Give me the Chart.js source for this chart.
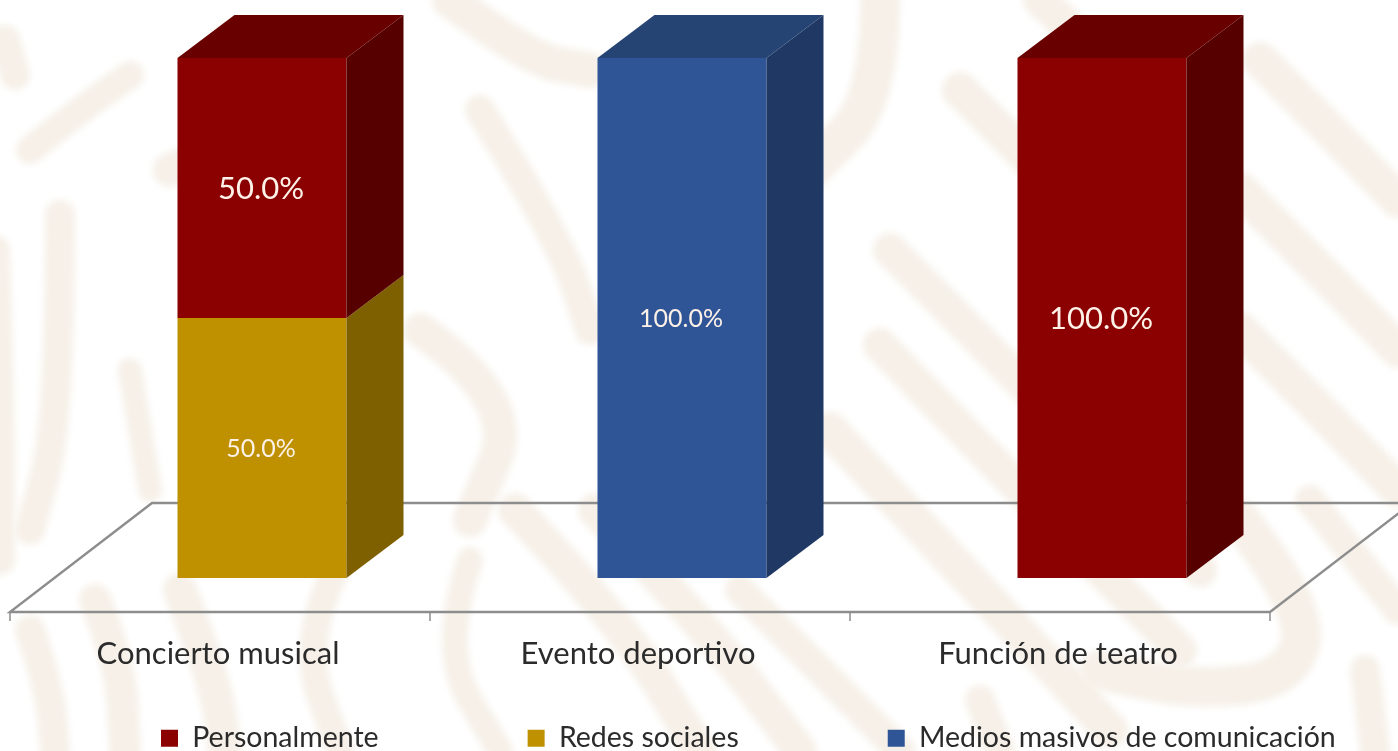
<!DOCTYPE html>
<html><head><meta charset="utf-8">
<style>html,body{margin:0;padding:0;background:#fff}#w{width:1398px;height:751px;position:relative}</style>
<script src="https://cdn.jsdelivr.net/npm/chart.js@4"></script>
</head><body><div id="w"><canvas id="c" width="1398" height="751"></canvas></div>
<script>
const categories = ['Concierto musical', 'Evento deportivo', 'Función de teatro'];
const seriesNames = ['Redes sociales', 'Personalmente', 'Medios masivos de comunicación'];
const redesSociales = [50, 0, 0];
const personalmente = [50, 0, 100];
const mediosMasivos = [0, 100, 0];
const legendOrder = ['Personalmente', 'Redes sociales', 'Medios masivos de comunicación'];

const FONT = 'Lato, sans-serif', INK = '#2b2b2b';
const DX = 57, DY = 43;
const shade = {
  'Redes sociales': {front:'#BF9000', side:'#7F6000', top:'#8f6c00', label:25},
  'Personalmente': {front:'#8B0000', side:'#570000', top:'#680000', label:31},
  'Medios masivos de comunicación': {front:'#2F5597', side:'#203864', top:'#264473', label:25}
};

/* faint watermark behind the chart */
const wm = [
 [28,[[30,150],[80,110],[130,75]]],[30,[[5,40],[15,75]]],[30,[[30,630],[50,690],[55,751]]],[32,[[95,600],[120,660],[125,751]]],
 [30,[[60,215],[60,420],[30,530]]],[24,[[130,370],[150,490]]],[30,[[-5,250],[0,400],[0,560]]],
 [36,[[450,0],[530,60],[590,70]]],[30,[[480,110],[560,240],[590,330]]],[34,[[230,40],[260,130],[170,170]]],
 [34,[[420,330],[520,400],[470,520]]],[28,[[340,560],[300,640],[340,751]]],[34,[[180,590],[215,680],[225,751]]],
 [26,[[470,560],[440,650],[500,751]]],[34,[[515,510],[620,620],[700,751]]],[34,[[595,510],[700,620],[800,751]]],[30,[[740,590],[830,680],[900,751]]],
 [36,[[830,430],[980,590],[1110,730]]],[34,[[880,345],[1030,500],[1180,650]]],[34,[[890,250],[1050,410],[1200,570]]],
 [40,[[1240,520],[1310,610],[1290,680],[1190,690],[1100,670]]],[36,[[960,90],[1040,170],[1120,250]]],
 [36,[[1260,60],[1330,130],[1398,200]]],[36,[[1240,190],[1320,270],[1398,350]]],[36,[[1240,330],[1320,410],[1398,490]]],
 [40,[[880,0],[880,100],[810,170]]],[34,[[1040,0],[1100,55],[1160,110]]],[30,[[1365,670],[1375,751]]],
 [30,[[1310,500],[1350,550],[1398,610]]],[30,[[980,700],[1000,751]]]
];
const backgroundPlugin = {
  id:'bg',
  beforeDraw(chart){
    const c = chart.ctx; c.save();
    c.fillStyle='#fff'; c.fillRect(0,0,chart.width,chart.height);
    c.strokeStyle='#f6f0e8'; c.lineCap='round'; c.lineJoin='round'; c.filter='blur(3px)';
    wm.forEach(([w,p])=>{
      c.lineWidth=w; c.beginPath(); c.moveTo(p[0][0],p[0][1]);
      for(let i=1;i<p.length-1;i++){ c.quadraticCurveTo(p[i][0],p[i][1],(p[i][0]+p[i+1][0])/2,(p[i][1]+p[i+1][1])/2); }
      c.lineTo(p[p.length-1][0],p[p.length-1][1]); c.stroke();
    });
    c.restore();
  }
};
const floorPlugin = {
  id:'floor',
  beforeDatasetsDraw(chart){
    const c = chart.ctx, x = chart.scales.x, y = chart.scales.y;
    const step = x.getPixelForValue(1)-x.getPixelForValue(0);
    const x0 = x.getPixelForValue(0)-step/2-DX+15, x1 = x0+step*categories.length;
    const yf = y.getPixelForValue(0)+34, yb = y.getPixelForValue(0)-75, sh = 142;
    c.save(); c.strokeStyle='#8d8d8d'; c.lineWidth=2.4;
    c.beginPath(); c.moveTo(x0,yf); c.lineTo(x1,yf); c.lineTo(x1+sh,yb); c.lineTo(x0+sh,yb); c.closePath(); c.stroke();
    c.lineWidth=1.5;
    for(let i=0;i<=categories.length;i++){ const t=x0+step*i; c.beginPath(); c.moveTo(t,yf); c.lineTo(t,yf+9); c.stroke(); }
    c.restore();
  }
};
const depthPlugin = {
  id:'depth',
  afterDatasetsDraw(chart){
    const c = chart.ctx, yTop = chart.scales.y.getPixelForValue(100);
    c.save();
    chart.data.datasets.forEach((ds,di)=>{
      const s = shade[ds.label];
      chart.getDatasetMeta(di).data.forEach((el,i)=>{
        if(!ds.data[i]) return;
        const L = el.x-el.width/2, R = el.x+el.width/2, T = el.y, B = el.base;
        c.fillStyle=s.side; c.beginPath(); c.moveTo(R,T); c.lineTo(R+DX,T-DY); c.lineTo(R+DX,B-DY); c.lineTo(R,B); c.closePath(); c.fill();
        if(Math.abs(T-yTop)<1){
          c.fillStyle=s.top; c.beginPath(); c.moveTo(L,T); c.lineTo(L+DX,T-DY); c.lineTo(R+DX,T-DY); c.lineTo(R,T); c.closePath(); c.fill();
        }
        c.fillStyle='#fdf1e8'; c.textAlign='center'; c.textBaseline='middle';
        c.font=s.label+'px '+FONT;
        c.fillText(ds.data[i].toFixed(1)+'%', el.x-1, (T+B)/2+1);
      });
    });
    c.restore();
  }
};
const legendPlugin = {
  id:'legendPlace',
  beforeUpdate(chart){
    const lg = chart.legend;
    if(lg && !lg._wrapped){
      const f = lg.fit;
      lg.fit=function(){ this.maxWidth=3000; f.call(this); this.width=chart.width; this.height=0; };
      lg._wrapped=true;
    }
  },
  afterLayout(chart){
    const lg = chart.legend, pad = lg.options.labels.padding;
    lg.left = 161-pad; lg.right = 3000; lg.top = 724-pad;
  }
};

new Chart(document.getElementById('c'),{
  type:'bar',
  data:{labels:categories,datasets:[
    {label:seriesNames[0],data:redesSociales,backgroundColor:shade[seriesNames[0]].front},
    {label:seriesNames[1],data:personalmente,backgroundColor:shade[seriesNames[1]].front},
    {label:seriesNames[2],data:mediosMasivos,backgroundColor:shade[seriesNames[2]].front}
  ]},
  options:{
    responsive:false,animation:false,
    layout:{padding:{left:52,right:86,top:58,bottom:0}},
    datasets:{bar:{barPercentage:1,categoryPercentage:0.4024,borderWidth:0}},
    scales:{
      x:{stacked:true,grid:{display:false},border:{display:false},
         afterFit(s){s.height=173;},
         ticks:{color:INK,font:{family:FONT,size:31},padding:49,labelOffset:-44,autoSkip:false,maxRotation:0}},
      y:{stacked:true,display:false,min:0,max:100}
    },
    plugins:{
      tooltip:{enabled:false},
      legend:{position:'bottom',align:'start',
        labels:{boxWidth:17,boxHeight:17,padding:149,color:INK,font:{family:FONT,size:28.5},
          sort:(a,b)=>legendOrder.indexOf(a.text)-legendOrder.indexOf(b.text)}}
    }
  },
  plugins:[backgroundPlugin,floorPlugin,depthPlugin,legendPlugin]
});
</script></body></html>
